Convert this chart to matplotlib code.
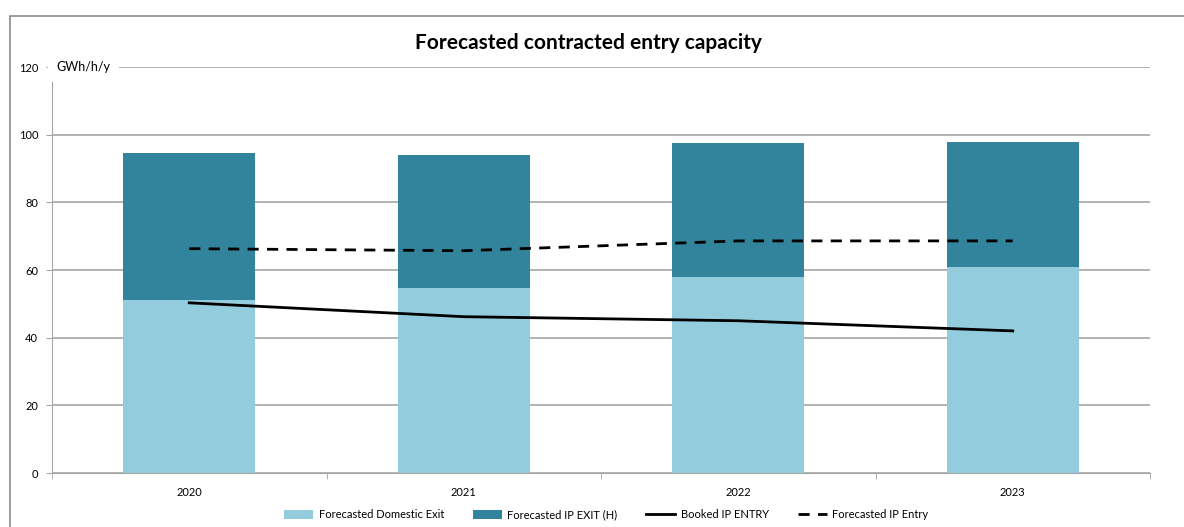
import matplotlib
matplotlib.use("Agg")
import matplotlib.pyplot as plt
import numpy as np
from matplotlib.patches import Rectangle

plt.rcParams["font.family"] = ["Lato", "DejaVu Sans"]

years = ["2020", "2021", "2022", "2023"]
domestic_exit = [51.2, 54.7, 58.0, 61.0]
ip_exit = [43.5, 39.4, 39.6, 36.9]
booked_ip_entry = [50.3, 46.2, 45.0, 42.0]
forecast_ip_entry = [66.3, 65.7, 68.6, 68.6]

light = "#93CDDD"
dark = "#31849B"
grid = "#a6a6a6"

fig = plt.figure(figsize=(11.84, 5.27), dpi=100)
ax = fig.add_axes([52 / 1184, 1 - 473 / 527, 1098 / 1184, 406 / 527])

# chart frame
fig.patches.append(Rectangle((10 / 1184, -0.1), 1.2, 1 - 16 / 527 + 0.1,
                             transform=fig.transFigure, fill=False,
                             edgecolor="#8c8c8c", lw=1.2))

x = np.arange(len(years))
w = 0.48
b1 = ax.bar(x, domestic_exit, w, color=light, label="Forecasted Domestic Exit", zorder=2)
b2 = ax.bar(x, ip_exit, w, bottom=domestic_exit, color=dark,
            label="Forecasted IP EXIT (H)", zorder=2)
l1, = ax.plot(x, booked_ip_entry, color="black", lw=2.0, label="Booked IP ENTRY", zorder=3)
l2, = ax.plot(x, forecast_ip_entry, color="black", lw=2.0, ls=(0, (4, 3)),
              label="Forecasted IP Entry", zorder=3)

ax.set_xlim(-0.5, 3.5)
ax.set_ylim(0, 120)
ax.set_yticks(range(0, 121, 20))
ax.yaxis.grid(True, color=grid, lw=1.2, zorder=0)
ax.set_xticks(x)
ax.set_xticklabels(years)
ax.set_xticks(np.arange(-0.5, 4, 1), minor=True)
ax.tick_params(axis="x", which="major", length=0, labelsize=8, pad=10)
ax.tick_params(axis="x", which="minor", length=4, color=grid)
ax.tick_params(axis="y", length=4, color=grid, labelsize=8, pad=6)

for s in ("top", "right"):
    ax.spines[s].set_visible(False)
ax.spines["left"].set_color(grid)
ax.spines["left"].set_bounds(0, 115.5)
ax.spines["bottom"].set_color(grid)

ax.text(0.004, 120, "GWh/h/y", transform=ax.get_yaxis_transform(),
        ha="left", va="center", fontsize=9,
        bbox=dict(facecolor="white", edgecolor="none", pad=6), zorder=4)

fig.text(0.497, 1 - 43 / 527, "Forecasted contracted entry capacity",
         ha="center", va="center", fontsize=15, fontweight="bold")

fig.legend(handles=[b1, b2, l1, l2], loc="center",
           bbox_to_anchor=(0.512, 1 - 515 / 527), ncol=4,
           frameon=False, fontsize=8, handlelength=2.6, handletextpad=0.5,
           columnspacing=2.6, handleheight=0.9)

fig.savefig("out.png", dpi=100, facecolor="white")
